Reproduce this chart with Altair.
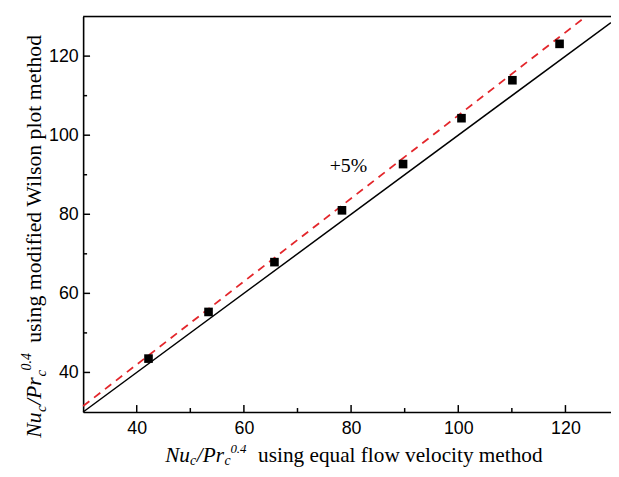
import altair as alt
import pandas as pd

# data
x_vals = [42.2, 53.4, 65.7, 78.3, 89.7, 100.6, 110.1, 118.9]
y_vals = [43.5, 55.3, 67.9, 81.0, 92.7, 104.3, 113.9, 123.1]

# reference lines: y = x and y = 1.05 x (end points)
solid_x = [30, 128.5]
solid_y = [30, 128.5]
dash_x = [30, 123.8]
dash_y = [31.5, 130]

x_major = [40, 60, 80, 100, 120]
x_minor = [50, 70, 90, 110]
y_major = [40, 60, 80, 100, 120]
y_minor = [50, 70, 90, 110]

X_DOM = [30, 128.5]
Y_DOM = [30, 130]
W, H = 534, 400

xs = alt.Scale(domain=X_DOM, nice=False, zero=False)
ys = alt.Scale(domain=Y_DOM, nice=False, zero=False)

pts = pd.DataFrame({"x": x_vals, "y": y_vals})
solid = pd.DataFrame({"x": solid_x, "y": solid_y})
dash = pd.DataFrame({"x": dash_x, "y": dash_y})

x_axis = alt.Axis(values=x_major, ticks=False, domain=True, domainColor="black",
                  domainWidth=1.6, labelFont="Liberation Sans", labelFontSize=18,
                  labelColor="black", labelPadding=8, grid=False, title=None)
y_axis = alt.Axis(values=y_major, ticks=False, domain=True, domainColor="black",
                  domainWidth=1.6, labelFont="Liberation Sans", labelFontSize=18,
                  labelColor="black", labelPadding=5, grid=False, title=None)

base_pts = alt.Chart(pts).mark_point(shape="square", filled=True, color="black",
                                     size=76, opacity=1).encode(
    x=alt.X("x:Q", scale=xs, axis=x_axis),
    y=alt.Y("y:Q", scale=ys, axis=y_axis),
)

solid_line = alt.Chart(solid).mark_line(color="black", strokeWidth=1.5).encode(
    x=alt.X("x:Q", scale=xs), y=alt.Y("y:Q", scale=ys))
dash_line = alt.Chart(dash).mark_line(color="#e3262b", strokeWidth=1.8,
                                      strokeDash=[8, 6]).encode(
    x=alt.X("x:Q", scale=xs), y=alt.Y("y:Q", scale=ys))

# inward ticks
x_ticks_major = alt.Chart(pd.DataFrame({"v": x_major})).mark_rule(
    color="black", strokeWidth=1.5).encode(
    x=alt.X("v:Q", scale=xs), y=alt.value(H), y2=alt.value(H - 7))
x_ticks_minor = alt.Chart(pd.DataFrame({"v": x_minor})).mark_rule(
    color="black", strokeWidth=1.5).encode(
    x=alt.X("v:Q", scale=xs), y=alt.value(H), y2=alt.value(H - 4))
y_ticks_major = alt.Chart(pd.DataFrame({"v": y_major})).mark_rule(
    color="black", strokeWidth=1.5).encode(
    y=alt.Y("v:Q", scale=ys), x=alt.value(0), x2=alt.value(7))
y_ticks_minor = alt.Chart(pd.DataFrame({"v": y_minor})).mark_rule(
    color="black", strokeWidth=1.5).encode(
    y=alt.Y("v:Q", scale=ys), x=alt.value(0), x2=alt.value(4))

top_border = alt.Chart(pd.DataFrame({"a": [0]})).mark_rule(
    color="black", strokeWidth=1.6).encode(
    x=alt.value(0), x2=alt.value(W), y=alt.value(0))

annot = alt.Chart(pd.DataFrame({"x": [79.5], "y": [92.3], "t": ["+5%"]})).mark_text(
    font="Liberation Serif", fontSize=20, color="black", align="center",
    baseline="middle").encode(
    x=alt.X("x:Q", scale=xs), y=alt.Y("y:Q", scale=ys), text="t:N")


def txt(s, px, py, size=21, style="italic", angle=0):
    return alt.Chart(pd.DataFrame({"t": [s]})).mark_text(
        font="Liberation Serif", fontSize=size, fontStyle=style, color="black",
        align="left", baseline="alphabetic", angle=angle).encode(
        x=alt.value(px), y=alt.value(py), text="t:N")


bx = 451
x_title = [
    txt("Nu", 83, bx, size=21.5),
    txt("c", 108, bx + 3, size=14),
    txt("/Pr", 115, bx, size=21.5),
    txt("c", 143, bx + 3, size=14),
    txt("0.4", 149, bx - 10, size=13),
    txt("using equal flow velocity method", 177, bx, size=21.5, style="normal"),
]

ax = -43
y_title = [
    txt("Nu", ax, 426, size=22, angle=270),
    txt("c", ax + 5, 400, size=15, angle=270),
    txt("/Pr", ax, 393, size=22, angle=270),
    txt("c", ax + 5, 364, size=15, angle=270),
    txt("0.4", ax - 10, 358, size=14, angle=270),
    txt("using modified Wilson plot method", ax, 330, size=22, style="normal",
        angle=270),
]

chart = alt.layer(
    solid_line, dash_line, base_pts, x_ticks_major, x_ticks_minor,
    y_ticks_major, y_ticks_minor, top_border, annot, *x_title, *y_title
).properties(
    width=W, height=H, autosize="none",
    padding={"left": 76, "top": 6, "right": 0, "bottom": 55},
).configure_view(stroke=None).configure(background="white")

chart.save("out.html", embed_options={"renderer": "svg", "actions": False})
